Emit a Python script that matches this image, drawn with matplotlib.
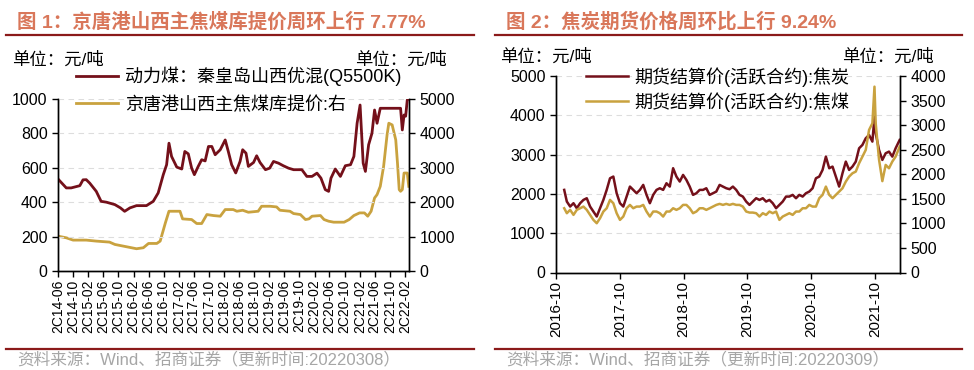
import matplotlib
matplotlib.use("Agg")
import matplotlib.pyplot as plt
import pandas as pd
from matplotlib.lines import Line2D

plt.rcParams['font.family'] = ['Liberation Sans', 'Noto Sans CJK SC', 'DejaVu Sans']

# ---- chart 1 data ----
coal_dates = ["2014-06-01", "2014-08-07", "2014-09-15", "2014-11-24", "2014-12-20", "2015-01-15", "2015-02-12",
              "2015-04-06", "2015-05-15", "2015-06-27", "2015-09-03", "2015-10-18", "2015-11-21", "2016-01-03",
              "2016-02-25", "2016-05-15", "2016-07-09", "2016-08-18", "2016-09-28", "2016-10-25", "2016-11-13",
              "2016-12-04", "2017-01-15", "2017-02-24", "2017-03-21", "2017-04-18", "2017-05-15", "2017-06-06",
              "2017-07-07", "2017-08-04", "2017-09-01", "2017-09-28", "2017-10-25", "2017-11-21", "2018-01-01",
              "2018-02-10", "2018-03-07", "2018-04-03", "2018-05-06", "2018-06-10", "2018-07-01", "2018-07-28",
              "2018-08-16", "2018-09-27", "2018-10-22", "2018-11-18", "2019-01-01", "2019-02-04", "2019-03-07",
              "2019-04-16", "2019-05-25", "2019-07-06", "2019-08-16", "2019-10-22", "2019-12-01", "2020-01-12",
              "2020-02-21", "2020-03-24", "2020-04-28", "2020-05-25", "2020-06-13", "2020-07-18", "2020-08-28",
              "2020-10-07", "2020-11-18", "2020-12-15", "2021-01-10", "2021-02-03", "2021-02-28", "2021-03-18",
              "2021-04-13", "2021-05-10", "2021-05-31", "2021-06-20", "2021-07-16", "2021-12-27", "2022-01-10",
              "2022-01-24", "2022-02-06", "2022-02-19", "2022-03-03"]
coal_price = [535, 483, 483, 496, 530, 531, 511, 463, 405, 400, 386, 367, 347, 367, 380, 380, 405, 454, 560, 618,
              743, 666, 604, 593, 695, 681, 598, 560, 608, 647, 640, 724, 724, 676, 705, 762, 695, 618, 570, 637,
              705, 685, 608, 631, 670, 631, 589, 598, 637, 627, 612, 598, 589, 589, 550, 550, 569, 540, 473, 463,
              540, 593, 550, 612, 618, 666, 859, 965, 627, 579, 734, 801, 936, 859, 946, 946, 820, 907, 900, 994,
              1000]

jt_dates = ["2014-06-01", "2014-08-07", "2014-10-01", "2015-01-15", "2015-04-06", "2015-07-22", "2015-09-03",
            "2015-12-06", "2016-02-25", "2016-04-20", "2016-06-01", "2016-08-07", "2016-09-03", "2016-10-15",
            "2016-11-13", "2016-12-04", "2017-02-10", "2017-03-03", "2017-05-15", "2017-06-25", "2017-08-04",
            "2017-09-15", "2017-11-07", "2018-01-01", "2018-02-10", "2018-04-16", "2018-05-15", "2018-07-01",
            "2018-08-16", "2018-11-03", "2018-12-01", "2019-02-07", "2019-04-01", "2019-04-28", "2019-07-18",
            "2019-08-16", "2019-10-10", "2019-11-20", "2019-12-18", "2020-01-12", "2020-03-20", "2020-04-18",
            "2020-05-25", "2020-07-05", "2020-09-27", "2020-11-07", "2020-12-15", "2021-01-30", "2021-03-10",
            "2021-04-06", "2021-05-03", "2021-05-31", "2021-06-20", "2021-07-16", "2021-08-12", "2021-09-09",
            "2021-09-23", "2021-10-20", "2021-11-18", "2021-12-02", "2021-12-16", "2021-12-27", "2022-01-10",
            "2022-01-24", "2022-02-19", "2022-03-03"]
jt_price = [1013, 965, 898, 898, 869, 840, 772, 705, 647, 676, 801, 801, 869, 1400, 1737, 1737, 1737, 1515, 1496,
            1380, 1380, 1641, 1612, 1593, 1786, 1786, 1737, 1766, 1708, 1737, 1882, 1882, 1863, 1766, 1737, 1670,
            1641, 1496, 1515, 1593, 1612, 1496, 1448, 1419, 1419, 1496, 1612, 1689, 1689, 1593, 1737, 2124, 2220,
            2461, 3041, 3958, 4296, 4247, 3813, 3137, 2365, 2317, 2365, 2848, 2848, 2461]

left_ticklabels = ["2C14-06", "2C14-10", "2C15-02", "2C15-06", "2C15-10", "2C16-02", "2C16-06", "2C16-10",
                   "2C17-02", "2C17-06", "2C17-10", "2C18-02", "2C18-06", "2C18-10", "2C19-02", "2C19-06",
                   "2C19-10", "2C20-02", "2C20-06", "2C20-10", "2C21-02", "2C21-06", "2C21-10", "2C22-02"]

# ---- chart 2 data ----
fut_dates = ["2016-11-17", "2016-12-02", "2016-12-21", "2017-01-09", "2017-01-28", "2017-02-16", "2017-03-07",
             "2017-03-26", "2017-04-14", "2017-05-03", "2017-05-22", "2017-06-10", "2017-06-29", "2017-07-18",
             "2017-08-06", "2017-08-25", "2017-09-13", "2017-10-02", "2017-10-21", "2017-11-09", "2017-11-28",
             "2017-12-17", "2018-01-05", "2018-01-24", "2018-02-12", "2018-03-03", "2018-03-22", "2018-04-10",
             "2018-04-29", "2018-05-18", "2018-06-06", "2018-06-25", "2018-07-14", "2018-08-02", "2018-08-21",
             "2018-09-09", "2018-09-28", "2018-10-17", "2018-11-05", "2018-11-24", "2018-12-13", "2019-01-01",
             "2019-01-20", "2019-02-08", "2019-02-27", "2019-03-18", "2019-04-06", "2019-04-25", "2019-05-14",
             "2019-06-02", "2019-06-21", "2019-07-10", "2019-07-29", "2019-08-17", "2019-09-05", "2019-09-24",
             "2019-10-13", "2019-11-01", "2019-11-20", "2019-12-09", "2019-12-28", "2020-01-16", "2020-02-04",
             "2020-02-23", "2020-03-13", "2020-04-01", "2020-04-20", "2020-05-09", "2020-05-28", "2020-06-16",
             "2020-07-05", "2020-07-24", "2020-08-12", "2020-08-31", "2020-09-19", "2020-10-08", "2020-10-27",
             "2020-11-15", "2020-12-04", "2020-12-23", "2021-01-11", "2021-01-30", "2021-02-18", "2021-03-09",
             "2021-03-28", "2021-04-16", "2021-05-05", "2021-05-24", "2021-06-12", "2021-07-01", "2021-07-20",
             "2021-08-08", "2021-08-27", "2021-09-15", "2021-09-27", "2021-10-04", "2021-10-23", "2021-11-11",
             "2021-11-30", "2021-12-19", "2022-01-07", "2022-01-26", "2022-02-18"]
coke_fut = [2102, 1805, 1678, 1763, 1636, 1763, 1847, 1890, 1678, 1551, 1424, 1636, 1847, 2102, 2398, 2441, 2017,
            1763, 1678, 1932, 2186, 2102, 2017, 2102, 2229, 1975, 1763, 1975, 2102, 2144, 2102, 2271, 2186, 2653,
            2441, 2314, 2483, 2356, 2186, 1975, 2017, 2102, 2102, 2144, 1975, 2017, 2059, 2229, 2186, 2144, 2119,
            2186, 2102, 1975, 1932, 1805, 1720, 1805, 1890, 1847, 1890, 1805, 1847, 1763, 1636, 1720, 1805, 1932,
            1932, 1975, 1890, 1975, 1932, 2017, 2059, 2144, 2398, 2441, 2610, 2949, 2653, 2695, 2441, 2186, 2525,
            2822, 2610, 2695, 2822, 3161, 3246, 3415, 3500, 3331, 3966, 3542, 3119, 2864, 3034, 3076, 2949, 3161,
            3373]
cokingcoal_fut = [1308, 1207, 1275, 1173, 1275, 1308, 1342, 1275, 1173, 1071, 1003, 1105, 1241, 1308, 1478, 1410,
                  1207, 1071, 1139, 1308, 1376, 1308, 1342, 1342, 1376, 1241, 1139, 1241, 1241, 1207, 1139, 1241,
                  1241, 1308, 1275, 1308, 1376, 1376, 1308, 1207, 1241, 1308, 1308, 1275, 1308, 1342, 1376, 1397,
                  1376, 1397, 1376, 1397, 1376, 1376, 1342, 1241, 1220, 1220, 1207, 1139, 1207, 1173, 1241, 1207,
                  1241, 1071, 1139, 1173, 1207, 1173, 1241, 1241, 1308, 1308, 1376, 1342, 1342, 1512, 1580, 1749,
                  1580, 1512, 1580, 1647, 1715, 1851, 1953, 2020, 2054, 2224, 2359, 2495, 2902, 3037, 3783, 3037,
                  2300, 1860, 2190, 2122, 2258, 2359, 2563]
right_ticks = ["2016-10", "2017-10", "2018-10", "2019-10", "2020-10", "2021-10"]

RED = '#74101A'
GOLD = '#C9A23F'
RULE = '#8B1A1A'
TITLE_C = '#D9775A'
W, H = 974, 370

fig = plt.figure(figsize=(W / 100, H / 100), dpi=100)


def fx(x):
    return x / W


def fy(y):
    return 1 - y / H


def style(ax, twin):
    ax.spines['top'].set_visible(False)
    twin.spines['top'].set_visible(False)
    for a in (ax, twin):
        a.tick_params(direction='out', length=4, width=1, labelsize=11.5, colors='black')
        for s in a.spines.values():
            s.set_linewidth(1)
    ax.grid(axis='y', ls=(0, (5, 4)), color='#DDDDDD', lw=0.8)
    ax.set_axisbelow(True)


def frame(x0, x1, title, source):
    fig.text(fx(x0 + 11), fy(22), title, fontsize=14, fontweight='bold', color=TITLE_C, va='center')
    fig.add_artist(Line2D([fx(x0), fx(x1)], [fy(35), fy(35)], color=RULE, lw=1.6))
    fig.add_artist(Line2D([fx(x0), fx(x1)], [fy(349), fy(349)], color=RULE, lw=1.6))
    fig.text(fx(x0 + 11), fy(359), source, fontsize=12, color='#A6A6A6', va='center')


# ---------------- chart 1 ----------------
frame(6, 474, "图 1：京唐港山西主焦煤库提价周环上行 7.77%", "资料来源：Wind、招商证券（更新时间:20220308）")
fig.text(fx(12), fy(60), "单位：元/吨", fontsize=12.5, va='center')
fig.text(fx(355), fy(60), "单位：元/吨", fontsize=12.5, va='center')

ax1 = fig.add_axes([fx(58), fy(271), fx(409 - 58), (271 - 99) / H])
ax1b = ax1.twinx()
l1, = ax1.plot(pd.to_datetime(coal_dates), coal_price, color=RED, lw=2,
               label="动力煤：秦皇岛山西优混(Q5500K)")
l2, = ax1b.plot(pd.to_datetime(jt_dates), jt_price, color=GOLD, lw=2, label="京唐港山西主焦煤库提价:右")
ax1.set_zorder(ax1b.get_zorder() + 1)
ax1.patch.set_visible(False)
ax1.set_ylim(0, 1000)
ax1.set_yticks(range(0, 1001, 200))
ax1b.set_ylim(0, 5000)
ax1b.set_yticks(range(0, 5001, 1000))
ax1.set_xlim(pd.Timestamp("2014-06-01"), pd.Timestamp("2022-03-05"))
ax1.set_xticks(pd.to_datetime([s.replace("2C", "20") for s in left_ticklabels]))
ax1.set_xticklabels(left_ticklabels, rotation=90, fontsize=10)
style(ax1, ax1b)
ax1.tick_params(axis='x', labelsize=10, pad=2)
fig.legend([l1, l2], [l1.get_label(), l2.get_label()], loc='upper left',
           bbox_to_anchor=(fx(76), fy(67)), frameon=False, fontsize=13, handlelength=2.3,
           handletextpad=0.4, labelspacing=0.55, borderaxespad=0, borderpad=0)

# ---------------- chart 2 ----------------
frame(495, 962, "图 2：焦炭期货价格周环比上行 9.24%", "资料来源：Wind、招商证券（更新时间:20220309）")
fig.text(fx(500), fy(57), "单位：元/吨", fontsize=12.5, va='center')
fig.text(fx(842), fy(57), "单位：元/吨", fontsize=12.5, va='center')

ax2 = fig.add_axes([fx(556), fy(272.5), fx(900 - 556), (272.5 - 76) / H])
ax2b = ax2.twinx()
r1, = ax2.plot(pd.to_datetime(fut_dates), coke_fut, color=RED, lw=1.8, label="期货结算价(活跃合约):焦炭")
r2, = ax2b.plot(pd.to_datetime(fut_dates), cokingcoal_fut, color=GOLD, lw=1.8, label="期货结算价(活跃合约):焦煤")
ax2.set_ylim(0, 5000)
ax2.set_yticks(range(0, 5001, 1000))
ax2b.set_ylim(0, 4000)
ax2b.set_yticks(range(0, 4001, 500))
ax2.set_xlim(pd.Timestamp("2016-10-01"), pd.Timestamp("2022-02-20"))
ax2.set_xticks(pd.to_datetime(right_ticks))
ax2.set_xticklabels(right_ticks, rotation=90)
style(ax2, ax2b)
ax2.tick_params(axis='x', labelsize=11, pad=2)
fig.legend([r1, r2], [r1.get_label(), r2.get_label()], loc='upper left',
           bbox_to_anchor=(fx(586), fy(67)), frameon=False, fontsize=13, handlelength=2.3,
           handletextpad=0.4, labelspacing=0.3, borderaxespad=0, borderpad=0)

fig.savefig("out.png", dpi=100)
